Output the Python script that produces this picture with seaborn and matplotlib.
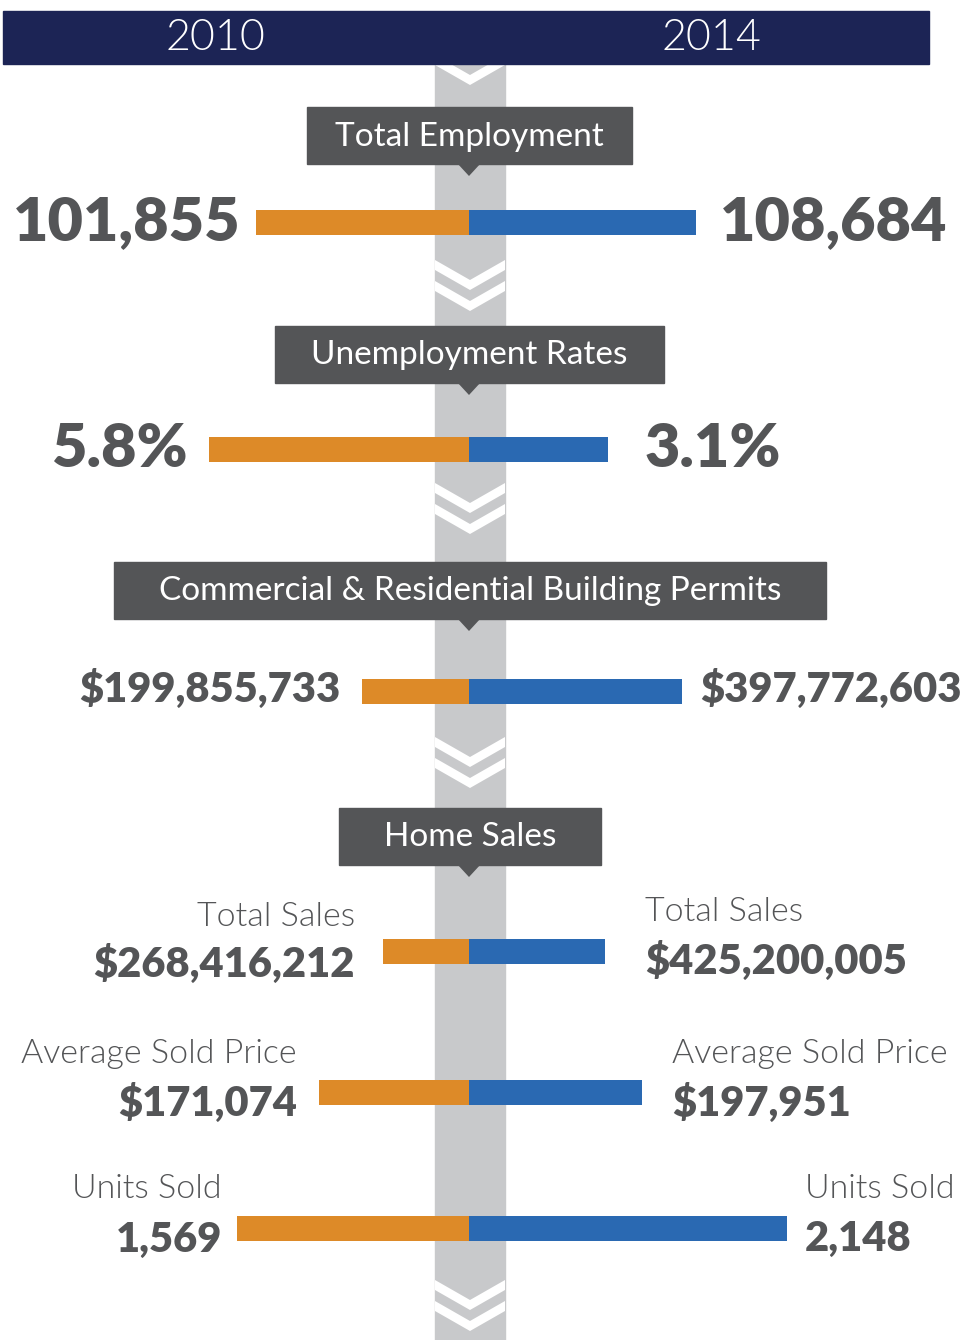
import pandas as pd
import seaborn as sns
import matplotlib.pyplot as plt
from matplotlib.patches import Rectangle, Polygon
import numpy as np

# Data read from the infographic
years = ["2010", "2014"]
sections = ["Total Employment", "Unemployment Rates",
            "Commercial & Residential Building Permits", "Home Sales"]
row_labels = [None, None, None, "Total Sales", "Average Sold Price", "Units Sold"]
values_2010 = [101855, 5.8, 199855733, 268416212, 171074, 1569]
values_2014 = [108684, 3.1, 397772603, 425200005, 197951, 2148]
text_2010 = ["101,855", "5.8%", "$199,855,733", "$268,416,212", "$171,074", "1,569"]
text_2014 = ["108,684", "3.1%", "$397,772,603", "$425,200,005", "$197,951", "2,148"]

# Layout (pixel coords, x measured from the centre line)
CX = 469
row_y = [222.5, 449.5, 691.5, 951.5, 1092.5, 1228.5]
row_span = [227, 260, 213, 136, 173, 318]   # length of the longer bar in each pair
box_rects = [(307, 107, 632, 164), (275, 326, 664, 383),
             (114, 562, 826, 619), (339, 808, 601, 865)]
chevron_tops = [260, 483, 737, 1280]

ORANGE = "#DD8A28"
BLUE = "#2A69B2"
GREY_TXT = "#545557"
BOX = "#545557"
STRIPE = "#C8C9CB"
NAVY = "#1C2455"

sns.set_theme(style="white")
plt.rcParams['font.family'] = ['Lato', 'DejaVu Sans']

# bar lengths: each pair scaled to its own max
rows = []
for i in range(len(values_2010)):
    m = max(values_2010[i], values_2014[i])
    rows.append({"y": row_y[i], "x": -values_2010[i] / m * row_span[i], "year": "2010"})
    rows.append({"y": row_y[i], "x": values_2014[i] / m * row_span[i], "year": "2014"})
df = pd.DataFrame(rows)

fig = plt.figure(figsize=(9.73, 13.4), dpi=100)
ax = fig.add_axes([0, 0, 1, 1])

def px(x):
    return x - CX

# centre stripe
ax.add_patch(Rectangle((px(435), 60), 70, 1290, color=STRIPE, zorder=0))

# chevrons
def chevron(y0, th=10, depth=20):
    pts = [(px(435), y0), (px(470), y0 + depth), (px(505), y0),
           (px(505), y0 + th), (px(470), y0 + depth + th), (px(435), y0 + th)]
    ax.add_patch(Polygon(pts, closed=True, color="white", zorder=1, lw=0))

chevron(55)
for y0 in chevron_tops:
    chevron(y0)
    chevron(y0 + 21)

# header bar
ax.add_patch(Rectangle((px(3), 11), 926, 53, color=NAVY, zorder=3))
ax.text(px(215), 39, years[0], color="white", fontsize=31, fontweight=300,
        ha="center", va="center", zorder=4)
ax.text(px(712), 39, years[1], color="white", fontsize=31, fontweight=300,
        ha="center", va="center", zorder=4)

# section boxes with pointer
for (x0, y0, x1, y1), name in zip(box_rects, sections):
    ax.add_patch(Rectangle((px(x0), y0), x1 - x0, y1 - y0, color=BOX, zorder=3))
    ax.add_patch(Polygon([(px(457), y1 - 1), (px(481), y1 - 1), (px(469), y1 + 12)],
                         closed=True, color=BOX, zorder=3, lw=0))
    ax.text(px((x0 + x1) / 2), (y0 + y1) / 2 + 1, name, color="white", fontsize=24,
            ha="center", va="center", zorder=4)

# bars
bar_w = 25 / np.diff(sorted(set(row_y))).min()
sns.barplot(data=df, x="x", y="y", hue="year", palette={"2010": ORANGE, "2014": BLUE},
            orient="h", native_scale=True, dodge=False, width=bar_w, saturation=1,
            errorbar=None, legend=False, linewidth=0, ax=ax, zorder=2)

# value labels
big = dict(color=GREY_TXT, fontweight="heavy", va="center")
ax.text(px(241), 222, text_2010[0], fontsize=44, ha="right", **big)
ax.text(px(720), 222, text_2014[0], fontsize=44, ha="left", **big)
ax.text(px(188), 449, text_2010[1], fontsize=44, ha="right", **big)
ax.text(px(645), 449, text_2014[1], fontsize=44, ha="left", **big)
ax.text(px(340), 689, text_2010[2], fontsize=30, ha="right", **big)
ax.text(px(700), 689, text_2014[2], fontsize=30, ha="left", **big)

# home sales rows
left_edge = [355, 297, 222]
right_edge = [645, 672, 805]
lab_y_left = [917, 1054, 1189]
lab_y_right = [912, 1054, 1189]
num_y_left = [964, 1103, 1240]
num_y_right = [961, 1103, 1239]
for k in range(3):
    i = k + 3
    ax.text(px(left_edge[k]), lab_y_left[k], row_labels[i], color=GREY_TXT,
            fontsize=24.5, fontweight=300, ha="right", va="center")
    ax.text(px(right_edge[k]), lab_y_right[k], row_labels[i], color=GREY_TXT,
            fontsize=24.5, fontweight=300, ha="left", va="center")
    ax.text(px(left_edge[k]), num_y_left[k], text_2010[i], fontsize=30, ha="right", **big)
    ax.text(px(right_edge[k]), num_y_right[k], text_2014[i], fontsize=30, ha="left", **big)

ax.set_xlim(px(0), px(973))
ax.set_ylim(1340, 0)
ax.axis("off")

fig.savefig("out.png", dpi=100, facecolor="white")
